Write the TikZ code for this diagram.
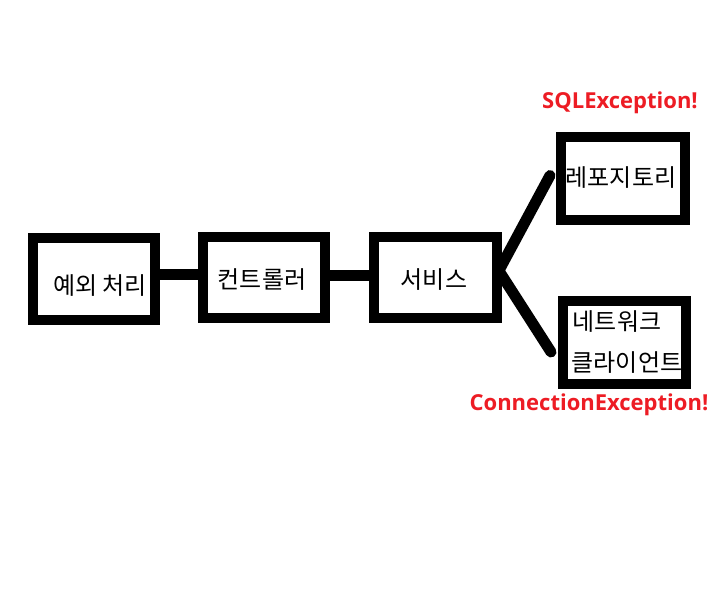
\documentclass[tikz,border=0pt]{standalone}
\usepackage{fontspec}
\newfontfamily\kr{Noto Sans CJK KR}
\newfontfamily\exf{Open Sans}
\definecolor{exred}{HTML}{ED1C24}
\tikzset{
  box/.style={draw=black, line width=10pt, fill=white, inner sep=0pt, rectangle},
  conn/.style={draw=black, line width=11pt},
  diag/.style={draw=black, line width=11pt, line cap=round},
  lbl/.style={inner sep=0pt, font=\kr\fontsize{24}{28}\selectfont},
  exlbl/.style={inner sep=0pt, text=exred, font=\exf\bfseries\fontsize{22}{26}\selectfont}
}
\begin{document}
\begin{tikzpicture}[x=1pt,y=-1pt]
\useasboundingbox (0,0) rectangle (710,598);
\fill[white] (0,0) rectangle (710,598);
\node[box, minimum width=122pt, minimum height=82pt] (b1) at (94,279) {};
\node[box, minimum width=122pt, minimum height=81pt] (b2) at (264,277.5) {};
\node[box, minimum width=123pt, minimum height=81pt] (b3) at (435.5,277.5) {};
\node[box, minimum width=124pt, minimum height=83pt] (b4) at (623,178.5) {};
\node[box, minimum width=123pt, minimum height=83pt] (b5) at (624.5,342.5) {};
\draw[conn] ([yshift=5pt]b1.east) -- ([yshift=3.5pt]b2.west);
\draw[conn] ([yshift=2.5pt]b2.east) -- ([yshift=2.5pt]b3.west);
\draw[diag] ([xshift=-2pt,yshift=9pt]b3.east) -- ([xshift=-6pt,yshift=3pt]b4.west);
\draw[diag] ([xshift=-2pt,yshift=5pt]b3.east) -- ([xshift=-7pt,yshift=-9.5pt]b5.west);
\node[lbl] (t1) at (100,286) {예외 처리};
\node[lbl] (t2) at (262,280) {컨트롤러};
\node[lbl] (t3) at (434,280) {서비스};
\node[lbl] (t4) at (621,178) {레포지토리};
\node[lbl] (t5) at (617,322) {네트워크};
\node[lbl] (t6) at (627,363) {클라이언트};
\node[exlbl] (e1) at (620,103) {SQLException!};
\node[exlbl] (e2) at (589,405) {ConnectionException!};
\end{tikzpicture}
\end{document}
